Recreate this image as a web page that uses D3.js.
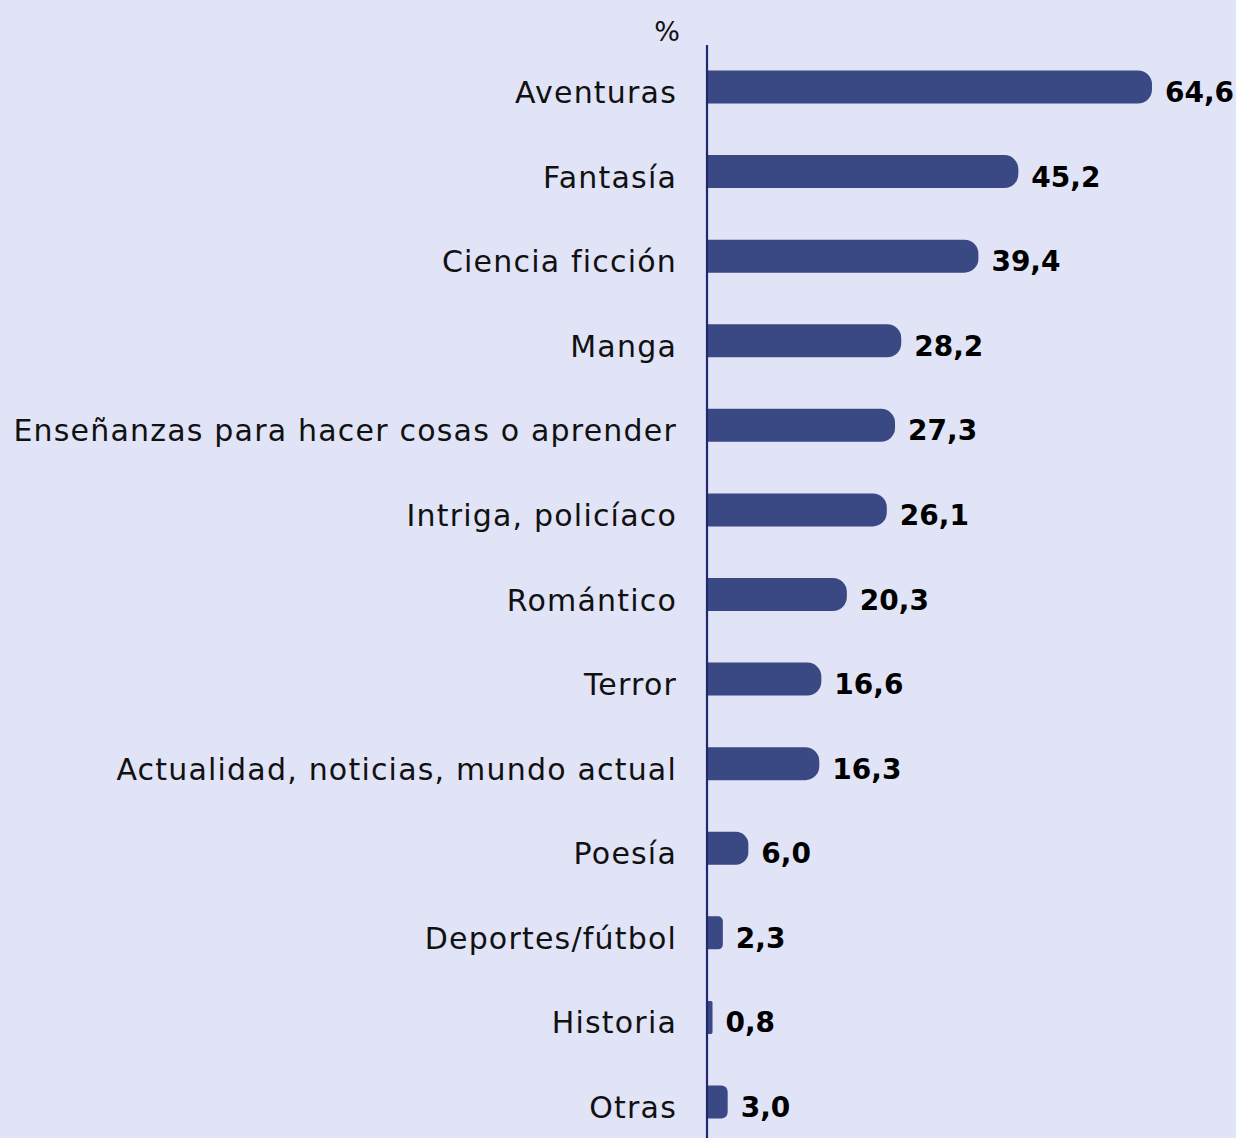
<!DOCTYPE html>
<html>
<head>
<meta charset="utf-8">
<script src="https://cdn.jsdelivr.net/npm/d3@7"></script>
<style>
  html, body { margin: 0; padding: 0; background: #e1e3f7; }
  svg { display: block; }
  text { font-family: "DejaVu Sans", sans-serif; }
</style>
</head>
<body>
<div id="chart"></div>
<script>
// Data
const categories = [
  'Aventuras', 'Fantasía', 'Ciencia ficción', 'Manga',
  'Enseñanzas para hacer cosas o aprender', 'Intriga, policíaco',
  'Romántico', 'Terror', 'Actualidad, noticias, mundo actual',
  'Poesía', 'Deportes/fútbol', 'Historia', 'Otras'
];
const values = [64.6, 45.2, 39.4, 28.2, 27.3, 26.1, 20.3, 16.6, 16.3, 6.0, 2.3, 0.8, 3.0];
const unitLabel = '%';

const W = 1236, H = 1138;
const axisX = 707;
const barH = 33;
const barColor = '#3a4883';
const axisColor = '#1f2a6e';

const svg = d3.select('#chart').append('svg')
  .attr('width', W).attr('height', H);

const data = categories.map((c, i) => ({ cat: c, val: values[i] }));

const x = d3.scaleLinear().domain([0, 64.6]).range([axisX, 1152]);
const y = d3.scalePoint().domain(categories).range([87, 1102]);

// rounded-right bar path (small bars get smaller corners)
function barPath(d) {
  const x0 = x(0), x1 = x(d.val);
  const w = x1 - x0;
  const r = Math.min(14, w * 0.3);
  const y0 = y(d.cat) - barH / 2, y1 = y0 + barH;
  return `M${x0},${y0} H${x1 - r} A${r},${r} 0 0 1 ${x1},${y0 + r}` +
         ` V${y1 - r} A${r},${r} 0 0 1 ${x1 - r},${y1} H${x0} Z`;
}

svg.selectAll('.bar')
  .data(data)
  .enter().append('path')
  .attr('class', 'bar')
  .attr('d', barPath)
  .attr('fill', barColor);

// axis line
svg.append('line')
  .attr('x1', axisX).attr('x2', axisX)
  .attr('y1', 45).attr('y2', H)
  .attr('stroke', axisColor).attr('stroke-width', 2.2);

// category labels
svg.selectAll('.cat')
  .data(data)
  .enter().append('text')
  .attr('class', 'cat')
  .attr('x', 677)
  .attr('y', d => y(d.cat) + 16)
  .attr('text-anchor', 'end')
  .style('font-size', '30px')
  .style('letter-spacing', '1.2px')
  .attr('fill', '#111')
  .text(d => d.cat);

// value labels
svg.selectAll('.val')
  .data(data)
  .enter().append('text')
  .attr('class', 'val')
  .attr('x', d => x(d.val) + 13)
  .attr('y', d => y(d.cat) + 15)
  .style('font-size', '28px')
  .style('font-weight', 'bold')
  .attr('fill', '#000')
  .text(d => d.val.toFixed(1).replace('.', ','));

// unit label
svg.append('text')
  .attr('x', 667)
  .attr('y', 41)
  .attr('text-anchor', 'middle')
  .style('font-size', '27px')
  .attr('fill', '#111')
  .text(unitLabel);
</script>
</body>
</html>
